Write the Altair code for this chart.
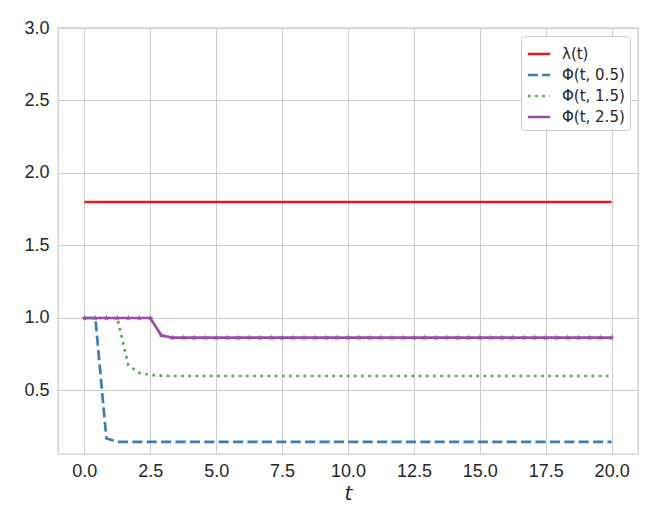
import altair as alt
import pandas as pd

# ---- data ----
t = [0.0, 0.4167, 0.8333, 1.25, 1.6667, 2.0833, 2.5, 2.9167, 3.3333, 3.75,
     4.1667, 4.5833, 5.0, 5.4167, 5.8333, 6.25, 6.6667, 7.0833, 7.5, 7.9167,
     8.3333, 8.75, 9.1667, 9.5833, 10.0, 10.4167, 10.8333, 11.25, 11.6667, 12.0833,
     12.5, 12.9167, 13.3333, 13.75, 14.1667, 14.5833, 15.0, 15.4167, 15.8333, 16.25,
     16.6667, 17.0833, 17.5, 17.9167, 18.3333, 18.75, 19.1667, 19.5833, 20.0]

lam = [1.8, 1.8, 1.8, 1.8, 1.8, 1.8, 1.8, 1.8, 1.8, 1.8,
       1.8, 1.8, 1.8, 1.8, 1.8, 1.8, 1.8, 1.8, 1.8, 1.8,
       1.8, 1.8, 1.8, 1.8, 1.8, 1.8, 1.8, 1.8, 1.8, 1.8,
       1.8, 1.8, 1.8, 1.8, 1.8, 1.8, 1.8, 1.8, 1.8, 1.8,
       1.8, 1.8, 1.8, 1.8, 1.8, 1.8, 1.8, 1.8, 1.8]

phi_05 = [1.0, 1.0, 0.17, 0.145, 0.145, 0.145, 0.145, 0.145, 0.145, 0.145,
          0.145, 0.145, 0.145, 0.145, 0.145, 0.145, 0.145, 0.145, 0.145, 0.145,
          0.145, 0.145, 0.145, 0.145, 0.145, 0.145, 0.145, 0.145, 0.145, 0.145,
          0.145, 0.145, 0.145, 0.145, 0.145, 0.145, 0.145, 0.145, 0.145, 0.145,
          0.145, 0.145, 0.145, 0.145, 0.145, 0.145, 0.145, 0.145, 0.145]

phi_15 = [1.0, 1.0, 1.0, 1.0, 0.675, 0.622, 0.607, 0.602, 0.6, 0.6,
          0.6, 0.6, 0.6, 0.6, 0.6, 0.6, 0.6, 0.6, 0.6, 0.6,
          0.6, 0.6, 0.6, 0.6, 0.6, 0.6, 0.6, 0.6, 0.6, 0.6,
          0.6, 0.6, 0.6, 0.6, 0.6, 0.6, 0.6, 0.6, 0.6, 0.6,
          0.6, 0.6, 0.6, 0.6, 0.6, 0.6, 0.6, 0.6, 0.6]

phi_25 = [1.0, 1.0, 1.0, 1.0, 1.0, 1.0, 1.0, 0.88, 0.864, 0.864,
          0.864, 0.864, 0.864, 0.864, 0.864, 0.864, 0.864, 0.864, 0.864, 0.864,
          0.864, 0.864, 0.864, 0.864, 0.864, 0.864, 0.864, 0.864, 0.864, 0.864,
          0.864, 0.864, 0.864, 0.864, 0.864, 0.864, 0.864, 0.864, 0.864, 0.864,
          0.864, 0.864, 0.864, 0.864, 0.864, 0.864, 0.864, 0.864, 0.864]

series_names = ["λ(t)", "Φ(t, 0.5)", "Φ(t, 1.5)", "Φ(t, 2.5)"]
series_values = [lam, phi_05, phi_15, phi_25]
series_colors = ["#e41a1c", "#377eb8", "#4daf4a", "#984ea3"]
series_dashes = [[1, 0], [10, 4.4], [2.7, 4.5], [1, 0]]

x_ticks = [0.0, 2.5, 5.0, 7.5, 10.0, 12.5, 15.0, 17.5, 20.0]
y_ticks = [0.5, 1.0, 1.5, 2.0, 2.5, 3.0]

rows = []
for name, vals in zip(series_names, series_values):
    for tv, v in zip(t, vals):
        rows.append({"t": tv, "value": v, "series": name})
df = pd.DataFrame(rows)

STAR = ("M0,-1L0.225,-0.309L0.951,-0.309L0.363,0.118L0.588,0.809L0,0.382"
        "L-0.588,0.809L-0.363,0.118L-0.951,-0.309L-0.225,-0.309Z")

x_enc = alt.X("t:Q", title="t",
              scale=alt.Scale(domain=[-1, 21], nice=False, zero=False),
              axis=alt.Axis(values=x_ticks, format=".1f"))
y_enc = alt.Y("value:Q", title=None,
              scale=alt.Scale(domain=[0.062, 3.0], nice=False, zero=False),
              axis=alt.Axis(values=y_ticks, format=".1f"))

lines = alt.Chart(df).mark_line(strokeWidth=2.7, strokeCap="butt").encode(
    x=x_enc,
    y=y_enc,
    color=alt.Color("series:N", sort=series_names,
                    scale=alt.Scale(domain=series_names, range=series_colors),
                    legend=alt.Legend(title=None)),
    strokeDash=alt.StrokeDash("series:N", sort=series_names,
                              scale=alt.Scale(domain=series_names, range=series_dashes),
                              legend=alt.Legend(title=None)),
    detail="series:N",
)

stars = alt.Chart(df).transform_filter(
    alt.datum.series == series_names[3]
).mark_point(shape=STAR, filled=True, size=45, color=series_colors[3], opacity=1).encode(
    x=x_enc, y=y_enc
)

chart = alt.layer(lines, stars).properties(
    width=580, height=426,
    autosize=alt.AutoSizeParams(type="none"),
    padding={"left": 50, "top": 20, "right": 14, "bottom": 66},
    background="white",
).configure_view(
    stroke="#cccccc", strokeWidth=1.3
).configure_axis(
    grid=True, gridColor="#cccccc", gridWidth=1,
    domain=False, ticks=False,
    labelFont="Liberation Sans", labelFontSize=18, labelColor="#262626",
    titleFont="DejaVu Sans", titleFontSize=20, titleFontStyle="italic",
    titleFontWeight="normal", titleColor="#262626",
).configure_axisX(
    labelPadding=8, titlePadding=3
).configure_axisY(
    labelPadding=9
).configure_legend(
    orient="top-right", offset=8, padding=5,
    strokeColor="#cccccc", fillColor="white", cornerRadius=3,
    labelFont="DejaVu Sans", labelFontSize=15, labelColor="#262626",
    symbolType="stroke", symbolSize=500, symbolStrokeWidth=2.7,
    labelOffset=10, rowPadding=0,
)

chart.save("out.html", embed_options={"renderer": "svg", "actions": False})
